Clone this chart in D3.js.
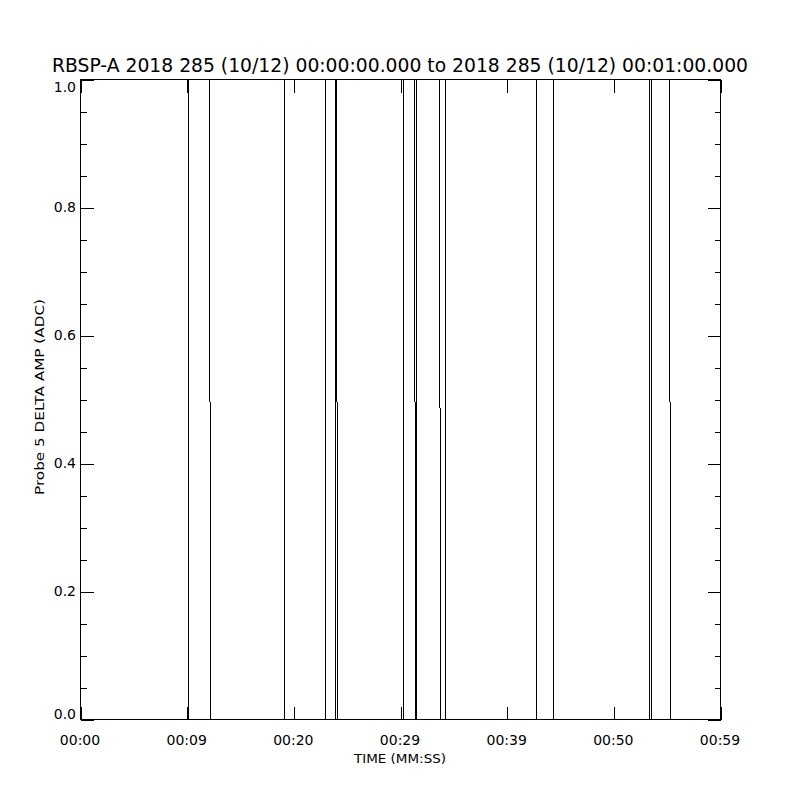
<!DOCTYPE html>
<html>
<head>
<meta charset="utf-8">
<script src="https://cdn.jsdelivr.net/npm/d3@7"></script>
<style>
  body { margin: 0; background: #fff; }
  svg { display: block; }
  text { font-family: "DejaVu Sans", sans-serif; fill: #000; }
</style>
</head>
<body>
<script>
// signal samples: time (s) and level
var times  = [0, 10.125, 10.125, 12.094, 12.188, 19.125, 19.125, 22.969, 22.969,
              23.906, 23.906, 24.0, 24.094, 30.281, 30.281, 31.313, 31.406, 31.5, 31.5,
              33.656, 33.75, 34.219, 34.219, 42.75, 42.75, 44.344, 44.344,
              53.344, 53.344, 53.531, 53.531, 55.219, 55.313, 60]
var values = [0, 0, 1, 1, 0, 0, 1, 1, 0,
              0, 1, 1, 0, 0, 1, 1, 0, 0, 1,
              1, 0, 0, 1, 1, 0, 0, 1,
              1, 0, 0, 1, 1, 0, 0]

var xTicks = [0, 10, 20, 30, 40, 50, 60]
var xTickLabels = ["00:00", "00:09", "00:20", "00:29", "00:39", "00:50", "00:59"]
var yTicks = [0, 0.2, 0.4, 0.6, 0.8, 1.0]
var yMinor = d3.range(0, 1.0001, 0.05)

var title = "RBSP-A 2018 285 (10/12) 00:00:00.000 to 2018 285 (10/12) 00:01:00.000"
var xTitle = "TIME (MM:SS)"
var yTitle = "Probe 5 DELTA AMP (ADC)"

var W = 800, H = 800
var L = 80, R = 720, T = 79, B = 719

var svg = d3.select("body").append("svg").attr("width", W).attr("height", H)
var g = svg.append("g").attr("transform", "translate(0.5,0.5)")
  .attr("shape-rendering", "crispEdges")

var x = d3.scaleLinear().domain([0, 60]).range([L, R])
var y = d3.scaleLinear().domain([0, 1]).range([B, T])

// frame
g.append("rect").attr("x", L).attr("y", T).attr("width", R - L).attr("height", B - T)
  .attr("fill", "none").attr("stroke", "#000")

// x ticks, bottom and top, pointing inward
g.append("g").attr("transform", "translate(0," + B + ")")
  .call(d3.axisBottom(x).tickValues(xTicks).tickSize(-13).tickSizeOuter(0).tickFormat(""))
g.append("g").attr("transform", "translate(0," + T + ")")
  .call(d3.axisTop(x).tickValues(xTicks).tickSize(-13).tickSizeOuter(0).tickFormat(""))
// y ticks, left and right
g.append("g").attr("transform", "translate(" + L + ",0)")
  .call(d3.axisLeft(y).tickValues(yMinor).tickSize(-6).tickSizeOuter(0).tickFormat(""))
g.append("g").attr("transform", "translate(" + L + ",0)")
  .call(d3.axisLeft(y).tickValues(yTicks).tickSize(-13).tickSizeOuter(0).tickFormat(""))
g.append("g").attr("transform", "translate(" + R + ",0)")
  .call(d3.axisRight(y).tickValues(yMinor).tickSize(-6).tickSizeOuter(0).tickFormat(""))
g.append("g").attr("transform", "translate(" + R + ",0)")
  .call(d3.axisRight(y).tickValues(yTicks).tickSize(-13).tickSizeOuter(0).tickFormat(""))
g.selectAll(".domain").remove()
g.selectAll(".tick line").attr("stroke", "#000")

// tick labels
svg.append("g").selectAll("text").data(xTicks).join("text")
  .attr("x", d => x(d)).attr("y", 745)
  .attr("text-anchor", "middle").attr("font-size", 14)
  .text((d, i) => xTickLabels[i])
// edge labels are kept inside the plot's vertical span
svg.append("g").selectAll("text").data(yTicks).join("text")
  .attr("x", L - 4).attr("y", d => Math.min(Math.max(y(d) + 5, T + 13), B))
  .attr("text-anchor", "end").attr("font-size", 14)
  .text(d => d.toFixed(1))

// titles
svg.append("text").attr("x", 400).attr("y", 72).attr("text-anchor", "middle")
  .attr("font-size", 19).attr("textLength", 696).attr("lengthAdjust", "spacingAndGlyphs")
  .text(title)
svg.append("text").attr("x", 400).attr("y", 763).attr("text-anchor", "middle")
  .attr("font-size", 13).attr("textLength", 92).attr("lengthAdjust", "spacingAndGlyphs")
  .text(xTitle)
svg.append("text").attr("transform", "translate(44,397) rotate(-90)")
  .attr("text-anchor", "middle").attr("font-size", 13)
  .attr("textLength", 196).attr("lengthAdjust", "spacingAndGlyphs")
  .text(yTitle)

// signal
var line = d3.line().x(d => x(d[0])).y(d => y(d[1]))
g.append("path").datum(times.map((t, i) => [t, values[i]]))
  .attr("d", line).attr("fill", "none").attr("stroke", "#000").attr("stroke-width", 1)
</script>
</body>
</html>
